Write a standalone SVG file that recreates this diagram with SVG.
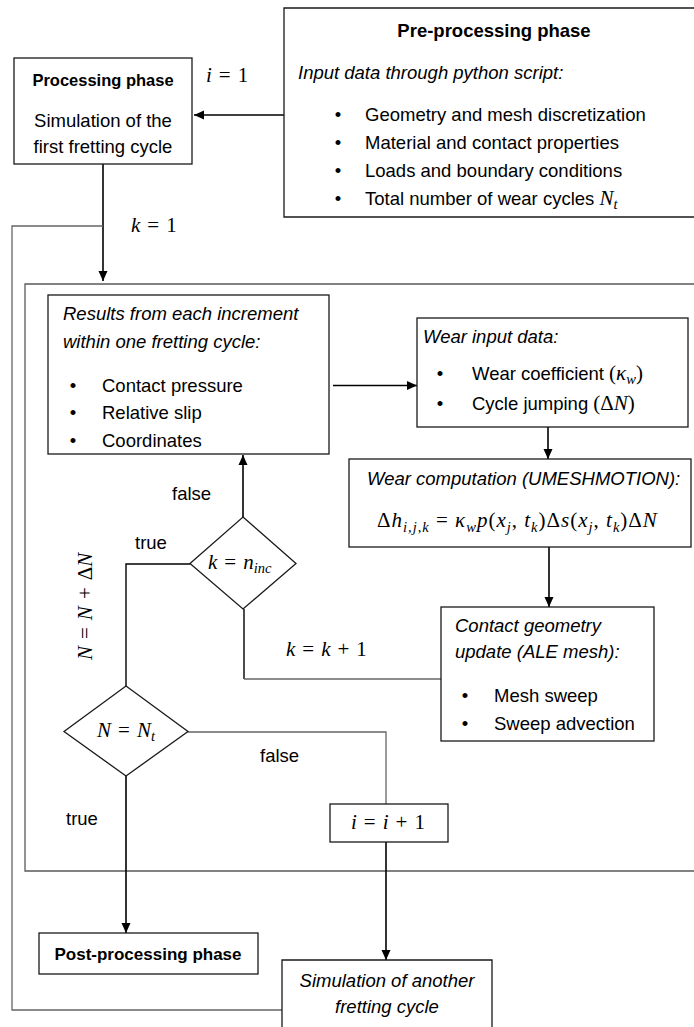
<svg xmlns="http://www.w3.org/2000/svg" width="694" height="1027" viewBox="0 0 694 1027">
<defs>
<marker id="ah" markerUnits="userSpaceOnUse" markerWidth="11" markerHeight="10" refX="10" refY="5" orient="auto"><path d="M0,0.5 L10,5 L0,9.5 z" fill="#000"/></marker>
<style>
.box{fill:#fff;stroke:#1a1a1a;stroke-width:1.3}
.frame{fill:none;stroke:#5a5a5a;stroke-width:1.3}
.arr{fill:none;stroke:#000;stroke-width:1.6;marker-end:url(#ah)}
.ln{fill:none;stroke:#000;stroke-width:1.4}
.gl{fill:none;stroke:#666;stroke-width:1.3}
.t{font-family:"Liberation Sans",Arial,sans-serif;font-size:18.5px;fill:#000}
.it{font-style:italic}
.b{font-weight:bold}
.c{text-anchor:middle}
.m{font-family:"Liberation Serif","Times New Roman",serif;font-size:21px;font-style:italic;fill:#000}
.mo{font-style:normal}
.sub{font-size:14.5px}
</style>
</defs>
<rect width="694" height="1027" fill="#fff"/>

<g id="frame"><path class="frame" d="M696,284 H25 V871 H696"/></g>

<g id="connectors">
<line class="arr" x1="284" y1="115" x2="194" y2="115"/>
<line class="arr" x1="103" y1="164" x2="103" y2="281"/>
<path class="gl" d="M282,1010 H12 V226 H103"/>
<line class="arr" x1="333" y1="385.5" x2="417" y2="385.5"/>
<line class="arr" x1="548" y1="427" x2="548" y2="459"/>
<line class="arr" x1="549" y1="547" x2="549" y2="607"/>
<path class="ln" d="M244,609 V679"/>
<path class="gl" d="M244,679 H441"/>
<line class="arr" x1="243" y1="517" x2="243" y2="455"/>
<path class="ln" d="M190,564 H126 V686"/>
<line class="arr" x1="126" y1="776" x2="126" y2="933"/>
<path class="gl" d="M188,732 H386 V804"/>
<line class="arr" x1="386" y1="842" x2="386" y2="960"/>
</g>

<g id="labels">
<text class="m" x="206" y="82">i<tspan class="mo">&#8196;=&#8196;1</tspan></text>
<text class="m" x="131" y="232">k<tspan class="mo">&#8196;=&#8196;1</tspan></text>
<text class="t" x="172" y="500">false</text>
<text class="t" x="135" y="549">true</text>
<text class="m" x="286" y="656">k<tspan class="mo">&#8196;=&#8196;</tspan>k<tspan class="mo">&#8196;+&#8196;1</tspan></text>
<text class="m" transform="translate(92,660) rotate(-90)">N<tspan class="mo">&#8196;=&#8196;</tspan>N<tspan class="mo">&#8196;+&#8196;Δ</tspan>N</text>
<text class="t" x="260" y="762">false</text>
<text class="t" x="66" y="825">true</text>
</g>

<g id="pre-processing">
<path class="box" d="M697,8 H284 V217 H697"/>
<text class="t b c" x="494" y="37" style="font-size:18.5px">Pre-processing phase</text>
<text class="t it" x="298" y="79">Input data through python script:</text>
<text class="t c" x="338" y="121">•</text><text class="t" x="365" y="121">Geometry and mesh discretization</text>
<text class="t c" x="338" y="149">•</text><text class="t" x="365" y="149">Material and contact properties</text>
<text class="t c" x="338" y="177">•</text><text class="t" x="365" y="177">Loads and boundary conditions</text>
<text class="t c" x="338" y="205">•</text><text class="t" x="365" y="205">Total number of wear cycles <tspan class="m">N</tspan><tspan class="m sub" dy="4">t</tspan></text>
</g>

<g id="processing">
<rect class="box" x="14" y="58" width="178" height="106"/>
<text class="t b c" x="103" y="86" style="font-size:16.5px">Processing phase</text>
<text class="t c" x="103" y="127">Simulation of the</text>
<text class="t c" x="103" y="153">first fretting cycle</text>
</g>

<g id="results">
<rect class="box" x="48" y="295" width="281" height="159"/>
<text class="t it" x="63" y="320">Results from each increment</text>
<text class="t it" x="63" y="348">within one fretting cycle:</text>
<text class="t c" x="73" y="392">•</text><text class="t" x="102" y="392">Contact pressure</text>
<text class="t c" x="73" y="419">•</text><text class="t" x="102" y="419">Relative slip</text>
<text class="t c" x="73" y="447">•</text><text class="t" x="102" y="447">Coordinates</text>
</g>

<g id="wear-input">
<rect class="box" x="417" y="318" width="271" height="109"/>
<text class="t it" x="423" y="343">Wear input data:</text>
<text class="t c" x="440" y="380">•</text><text class="t" x="472" y="380">Wear coefficient  <tspan class="m mo">(</tspan><tspan class="m">κ</tspan><tspan class="m sub" dy="4">w</tspan><tspan class="m mo" dy="-4">)</tspan></text>
<text class="t c" x="440" y="410">•</text><text class="t" x="472" y="410">Cycle jumping <tspan class="m mo">(Δ</tspan><tspan class="m">N</tspan><tspan class="m mo">)</tspan></text>
</g>

<g id="wear-computation">
<rect class="box" x="349" y="459" width="342" height="88"/>
<text class="t it" x="367" y="485">Wear computation (UMESHMOTION):</text>
<text class="m" x="377" y="527" letter-spacing="1"><tspan class="mo">Δ</tspan>h<tspan class="sub" dy="5">i,j,k</tspan><tspan class="mo" dy="-5"> = </tspan>κ<tspan class="sub" dy="5">w</tspan><tspan dy="-5">p</tspan><tspan class="mo">(</tspan>x<tspan class="sub" dy="5">j</tspan><tspan class="mo" dy="-5">, </tspan>t<tspan class="sub" dy="5">k</tspan><tspan class="mo" dy="-5">)Δ</tspan>s<tspan class="mo">(</tspan>x<tspan class="sub" dy="5">j</tspan><tspan class="mo" dy="-5">, </tspan>t<tspan class="sub" dy="5">k</tspan><tspan class="mo" dy="-5">)Δ</tspan>N</text>
</g>

<g id="contact-update">
<rect class="box" x="441" y="607" width="213" height="134"/>
<text class="t it" x="455" y="632">Contact geometry</text>
<text class="t it" x="455" y="658">update (ALE mesh):</text>
<text class="t c" x="465" y="702">•</text><text class="t" x="494" y="702">Mesh sweep</text>
<text class="t c" x="465" y="730">•</text><text class="t" x="494" y="730">Sweep advection</text>
</g>

<g id="decision-k">
<polygon class="box" points="243,517 296,563.5 243,609 190,563.5"/>
<text class="m" x="208" y="569">k<tspan class="mo">&#8196;=&#8196;</tspan>n<tspan class="sub" dy="4">inc</tspan></text>
</g>

<g id="decision-N">
<polygon class="box" points="126,686 188,731.5 126,776 64,731.5"/>
<text class="m" x="97" y="737">N<tspan class="mo">&#8196;=&#8196;</tspan>N<tspan class="sub" dy="4">t</tspan></text>
</g>

<g id="increment-i">
<rect class="box" x="330" y="804" width="118" height="38"/>
<text class="m" x="351" y="829">i<tspan class="mo">&#8196;=&#8196;</tspan>i<tspan class="mo">&#8196;+&#8196;1</tspan></text>
</g>

<g id="post-processing">
<rect class="box" x="39" y="933" width="219" height="41"/>
<text class="t b c" x="148" y="960" style="font-size:17px">Post-processing phase</text>
</g>

<g id="another-cycle">
<path class="box" d="M282,1030 V960 H492 V1030"/>
<text class="t it c" x="387" y="987">Simulation of another</text>
<text class="t it c" x="387" y="1013">fretting cycle</text>
</g>
</svg>
